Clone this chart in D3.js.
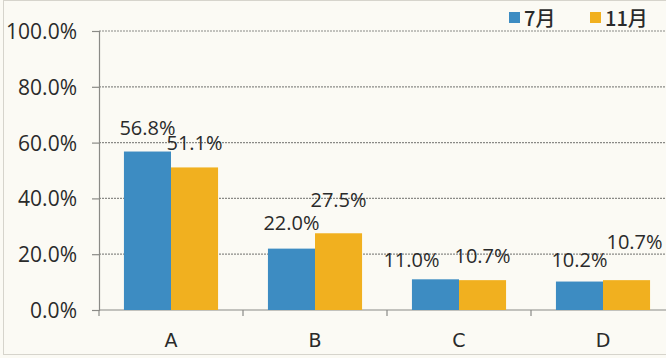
<!DOCTYPE html>
<meta charset="utf-8">
<script src="https://d3js.org/d3.v7.min.js"></script>
<style>
  body { margin: 0; background: #fbfaf4; }
</style>
<div id="my_dataviz"></div>
<script>
// data
var categories = ["A", "B", "C", "D"];
var seriesNames = ["7月", "11月"];
var july = [56.8, 22.0, 11.0, 10.2];
var november = [51.1, 27.5, 10.7, 10.7];
var yTicks = [0, 20, 40, 60, 80, 100];

// label nudges (Excel moved a few labels to avoid overlap) [dx, dy]
var nudgeJuly = [[0, 0], [0, -2], [-24, 5], [0, 2]];
var nudgeNov = [[0, 0], [0, -9], [0, 0], [8, -14]];

var W = 666, H = 358;
var margin = {top: 31, left: 99, bottom: 48};
var colors = ["#3d8cc2", "#f1b01f"];

var svg = d3.select("#my_dataviz")
  .append("svg")
    .attr("width", W)
    .attr("height", H);

svg.append("rect")
  .attr("x", 3.5).attr("y", 0.5)
  .attr("width", W + 10).attr("height", H - 4)
  .attr("fill", "#fbfaf4")
  .attr("stroke", "#d6d4cc");

var x = d3.scaleBand()
  .domain(categories)
  .range([margin.left, 675])
  .paddingInner(0)
  .paddingOuter(0);

var x1 = d3.scaleBand()
  .domain([0, 1])
  .range([0, x.bandwidth()])
  .paddingOuter(0.53)
  .paddingInner(0);

var y = d3.scaleLinear()
  .domain([0, 100])
  .range([H - margin.bottom, margin.top]);

// gridlines
svg.append("g")
  .selectAll("line")
  .data(yTicks.slice(1))
  .enter().append("line")
    .attr("x1", margin.left).attr("x2", W)
    .attr("y1", function(d) { return y(d); })
    .attr("y2", function(d) { return y(d); })
    .attr("stroke", "#8a8a86")
    .attr("stroke-width", 1.2)
    .attr("stroke-dasharray", "2,1");

// y axis
var yAxis = svg.append("g")
  .attr("transform", "translate(" + margin.left + ",0)")
  .call(d3.axisLeft(y).tickValues(yTicks).tickSize(7).tickPadding(15)
    .tickFormat(function(d) { return d.toFixed(1) + "%"; }));
yAxis.select(".domain").attr("stroke", "#8a8a86").attr("stroke-width", 1.2);
yAxis.selectAll(".tick line").attr("stroke", "#8a8a86").attr("stroke-width", 1.2);
yAxis.selectAll("text")
  .attr("font-family", "'Open Sans', 'Noto Sans', sans-serif")
  .attr("font-size", "21px")
  .attr("fill", "#2a2a2a")
  .attr("dy", "0.36em");

// x axis
var xAxisG = svg.append("g")
  .attr("transform", "translate(0," + y(0) + ")");
xAxisG.append("line")
  .attr("x1", margin.left).attr("x2", W)
  .attr("stroke", "#8a8a86").attr("stroke-width", 1.2);
xAxisG.selectAll(".xtick")
  .data(categories)
  .enter().append("line")
    .attr("x1", function(d) { return x(d); })
    .attr("x2", function(d) { return x(d); })
    .attr("y1", 0).attr("y2", 6)
    .attr("stroke", "#8a8a86").attr("stroke-width", 1.2);
xAxisG.selectAll("text")
  .data(categories)
  .enter().append("text")
    .attr("x", function(d) { return x(d) + x.bandwidth() / 2; })
    .attr("y", 37)
    .attr("text-anchor", "middle")
    .attr("font-family", "'DejaVu Sans', sans-serif")
    .attr("font-size", "19px")
    .attr("fill", "#2a2a2a")
    .text(function(d) { return d; });

// bars
var series = [july, november];
var nudges = [nudgeJuly, nudgeNov];
series.forEach(function(vals, s) {
  svg.append("g")
    .selectAll("rect")
    .data(vals)
    .enter().append("rect")
      .attr("x", function(d, i) { return x(categories[i]) + x1(s); })
      .attr("y", function(d) { return y(d); })
      .attr("width", x1.bandwidth())
      .attr("height", function(d) { return y(0) - y(d); })
      .attr("fill", colors[s]);

  svg.append("g")
    .selectAll("text")
    .data(vals)
    .enter().append("text")
      .attr("x", function(d, i) { return x(categories[i]) + x1(s) + x1.bandwidth() / 2 + nudges[s][i][0]; })
      .attr("y", function(d, i) { return y(d) - 17 + nudges[s][i][1]; })
      .attr("text-anchor", "middle")
      .attr("font-family", "'Open Sans', 'Noto Sans', sans-serif")
      .attr("font-size", "20px")
      .attr("fill", "#2a2a2a")
      .text(function(d) { return d.toFixed(1) + "%"; });
});

// legend
var legendX = [509, 590];
var legend = svg.append("g");
seriesNames.forEach(function(name, s) {
  legend.append("rect")
    .attr("x", legendX[s]).attr("y", 12)
    .attr("width", 11).attr("height", 11)
    .attr("fill", colors[s]);
  legend.append("text")
    .attr("x", legendX[s] + 15).attr("y", 26)
    .attr("font-family", "'Noto Sans CJK SC', sans-serif")
    .attr("font-size", "20px")
    .attr("font-weight", "500")
    .attr("fill", "#2a2a2a")
    .text(name);
});
</script>
